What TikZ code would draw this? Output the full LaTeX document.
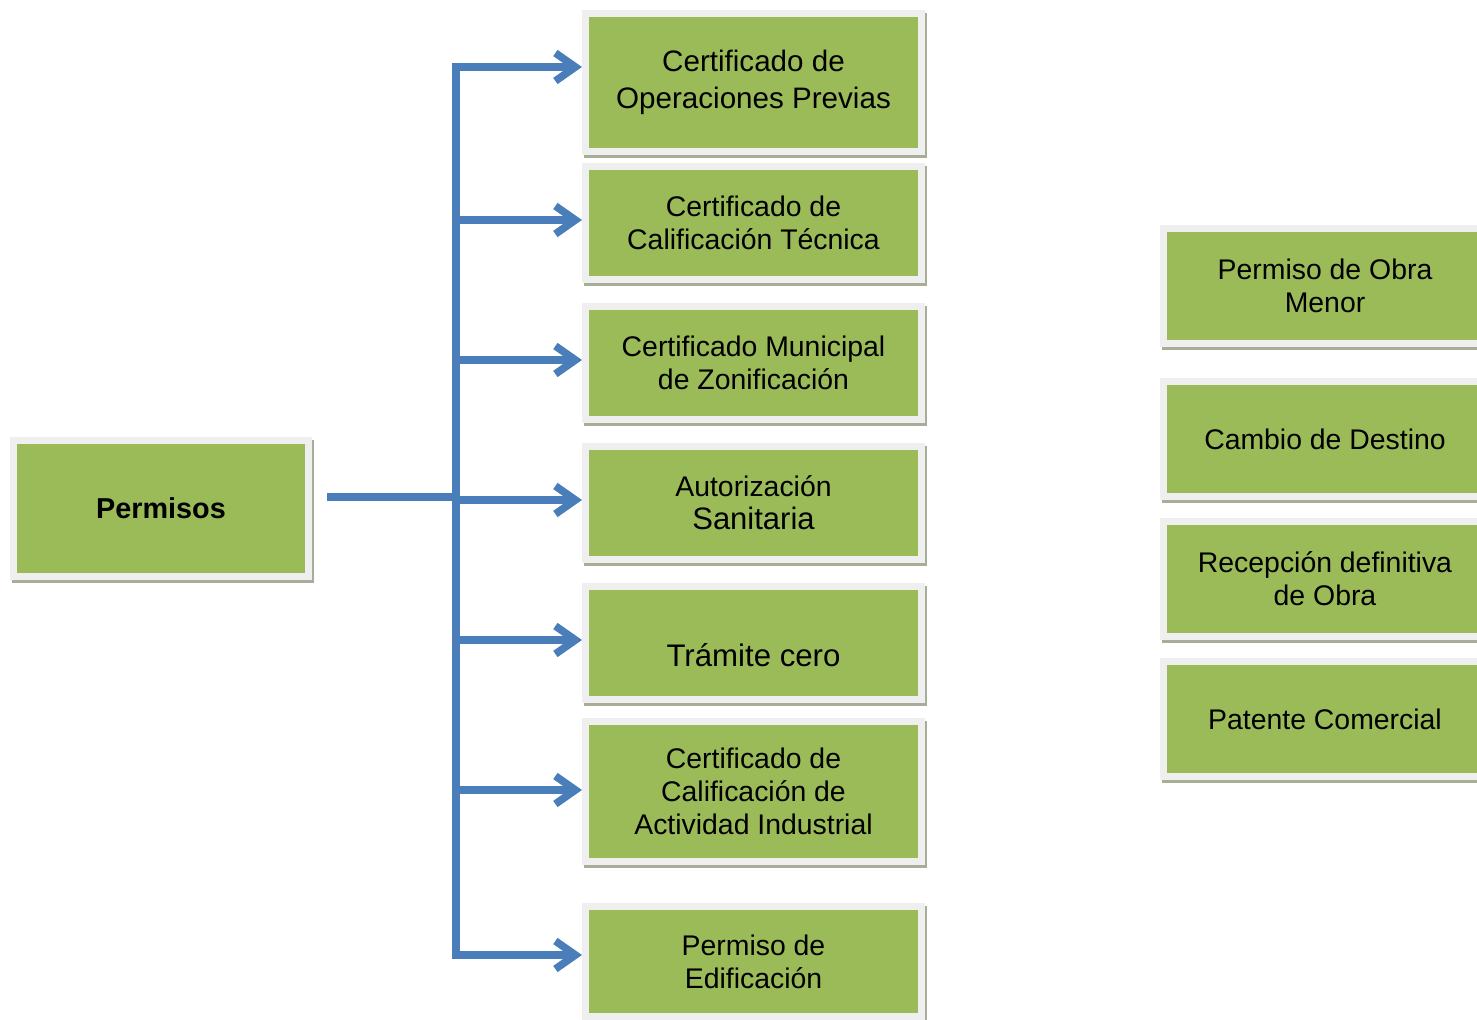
\documentclass[tikz,border=0pt]{standalone}
\usepackage{fontspec}
\setmainfont{Liberation Sans}
\usetikzlibrary{arrows.meta, positioning}

\definecolor{boxgreen}{HTML}{9BBB59}
\definecolor{boxline}{HTML}{EFEFEF}
\definecolor{boxshadow}{HTML}{A7AE98}
\definecolor{linkblue}{HTML}{4A7EBB}

\begin{document}
\begin{tikzpicture}[x=0.5pt, y=-0.5pt,
  box/.style={draw=boxline, fill=boxgreen, line width=3.5pt, align=center,
    inner sep=0pt, text=black, font=\fontsize{14.2}{16.5}\selectfont,
    preaction={draw=boxshadow, fill=boxshadow, line width=3.5pt,
      transform canvas={shift={(1pt,-1.5pt)}}}},
  midbox/.style={box, minimum width=168pt},
  sidebox/.style={box, minimum width=161.5pt, minimum height=57.5pt},
  link/.style={draw=linkblue, line width=3.8pt},
  arr/.style={link, -{Straight Barb[length=10pt, width=14pt]}}]
\useasboundingbox (0,0) rectangle (1477,1020);
\clip (0,0) rectangle (1477,1020);

% Root
\node[box, minimum width=147.5pt, minimum height=68pt, font=\bfseries\fontsize{14.4}{16.5}\selectfont] (perm) at (161,508.5) {Permisos};

% Permits column
\node[midbox, minimum height=69pt, font=\fontsize{14.8}{18.5}\selectfont] (c1) at (753.5,82.5) {Certificado de\\Operaciones Previas};
\node[midbox, minimum height=56.5pt] (c2) at (753.5,223) {Certificado de\\Calificación Técnica};
\node[midbox, minimum height=56.5pt] (c3) at (753.5,363) {Certificado Municipal\\de Zonificación};
\node[midbox, minimum height=56.5pt] (c4) at (753.5,503) {Autorización\\{\fontsize{15.5}{18}\selectfont Sanitaria}};
\node[midbox, minimum height=56.5pt] (c5) at (753.5,643) {\strut\\[-4pt]{\fontsize{15.6}{18}\selectfont Trámite cero}};
\node[midbox, minimum height=70pt] (c6) at (753.5,791.5) {Certificado de\\Calificación de\\Actividad Industrial};
\node[midbox, minimum height=55pt] (c7) at (753.5,961.5) {Permiso de\\Edificación};

% Other permits
\node[sidebox] (s1) at (1325,286) {Permiso de Obra\\Menor};
\node[sidebox] (s2) at (1325,439) {Cambio de Destino};
\node[sidebox] (s3) at (1325,579) {Recepción definitiva\\de Obra};
\node[sidebox] (s4) at (1325,719) {Patente Comercial};

% Connectors
\coordinate (hub) at (456,497);
\coordinate (j1) at (456,67);
\coordinate (j2) at (456,220);
\coordinate (j3) at (456,360);
\coordinate (j4) at (456,500);
\coordinate (j5) at (456,640);
\coordinate (j6) at (456,790);
\coordinate (j7) at (456,955);
\draw[link] ([xshift=7.5pt]perm.east |- hub) -- (hub);
\draw[link, line cap=rect] (j1) -- (j7);
\foreach \i in {1,...,7}
  \draw[arr] (j\i) -- (j\i -| c\i.west);
\end{tikzpicture}
\end{document}
